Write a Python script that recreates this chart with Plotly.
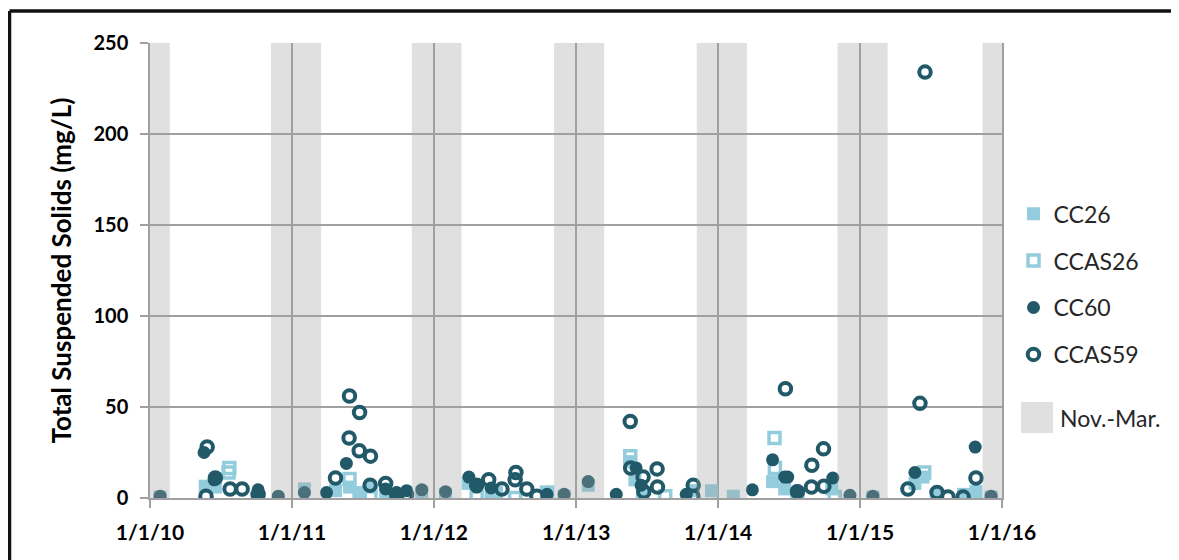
import plotly.graph_objects as go

# ---------------- data ----------------
cc26_dates = ["2010-01-27", "2010-05-23", "2010-06-18", "2011-02-02", "2011-04-23", "2011-05-29",
              "2011-06-24", "2011-07-22", "2011-08-30", "2011-09-27", "2011-12-01", "2012-01-31",
              "2012-03-29", "2012-05-27", "2012-06-10", "2012-10-18", "2012-12-01", "2013-02-01",
              "2013-05-19", "2013-06-01", "2013-06-20", "2013-10-29", "2013-12-15", "2014-02-09",
              "2014-05-21", "2014-06-21", "2014-07-22", "2014-10-20", "2015-02-03", "2015-05-22",
              "2015-06-12", "2015-07-16", "2015-09-24", "2015-10-26", "2015-12-04"]
cc26_vals = [0.5, 6.5, 6, 5, 4, 6,
             3, 6, 2, 1, 3, 2,
             8, 1, 3, 3, 1, 7,
             20, 10, 1.5, 4, 4, 1,
             9, 5, 1, 5, 0.5, 8,
             11.5, 1.5, 2, 3.5, 0.5]

ccas26_dates = ["2010-07-24", "2010-07-22", "2011-05-29", "2011-06-24", "2011-07-22", "2012-04-20",
                "2012-07-28", "2012-10-18", "2013-05-20", "2013-08-18", "2014-05-26", "2014-05-27",
                "2014-07-24", "2014-10-28", "2015-06-15"]
ccas26_vals = [16.5, 14, 10.5, 2, 2, 0.5,
               0, 3, 23, 1, 33, 16.5,
               0, 0.5, 14]

cc60_dates = ["2010-01-27", "2010-05-20", "2010-06-15", "2010-10-06", "2010-10-07", "2010-11-27",
              "2011-02-02", "2011-03-31", "2011-05-21", "2011-08-30", "2011-09-27", "2011-10-23",
              "2011-12-01", "2012-01-31", "2012-03-31", "2012-04-20", "2012-05-27", "2012-10-18",
              "2012-12-01", "2013-02-01", "2013-04-14", "2013-06-04", "2013-06-17", "2013-10-11",
              "2014-03-30", "2014-05-21", "2014-06-21", "2014-06-29", "2014-07-22", "2014-10-23",
              "2014-12-06", "2015-02-03", "2015-05-22", "2015-10-24", "2015-12-04"]
cc60_vals = [1, 25, 10, 4.5, 0.5, 1,
             3, 3, 19, 5, 3, 4,
             4.5, 3.5, 11.5, 6, 5.5, 2,
             2, 9, 2, 16.5, 7, 2,
             4.5, 21, 11.5, 11.5, 4, 11,
             1.5, 1, 14, 28, 1]

ccas59_dates = ["2010-05-25", "2010-05-28", "2010-06-18", "2010-07-26", "2010-08-26", "2010-10-06",
                "2011-04-23", "2011-05-29", "2011-05-28", "2011-06-24", "2011-06-23", "2011-07-22",
                "2011-07-21", "2011-08-30", "2011-09-27", "2011-10-23", "2012-04-20", "2012-05-21",
                "2012-06-24", "2012-07-30", "2012-07-28", "2012-08-27", "2012-09-22", "2013-05-20",
                "2013-05-21", "2013-06-22", "2013-06-24", "2013-07-28", "2013-07-29", "2013-10-29",
                "2013-10-28", "2014-06-23", "2014-07-24", "2014-08-29", "2014-08-30", "2014-09-29",
                "2014-09-30", "2015-05-04", "2015-06-04", "2015-06-17", "2015-07-18", "2015-08-15",
                "2015-09-23", "2015-10-26"]
ccas59_vals = [1, 28, 11, 5, 5, 2,
               11, 56, 33, 47, 26, 23,
               7, 8, 2, 2, 7, 10,
               5, 14, 10, 5, 1, 42,
               16.5, 11.5, 3.5, 16, 6, 7,
               1, 60, 3.5, 6, 18, 27,
               6.5, 5, 52, 234, 3, 0.5,
               0.5, 11]

band_start = ["2010-01-01", "2010-11-08", "2011-11-05", "2012-11-05", "2013-11-07", "2014-11-04", "2015-11-12"]
band_end = ["2010-02-21", "2011-03-17", "2012-03-12", "2013-03-14", "2014-03-16", "2015-03-13", "2016-01-01"]
band_top = [250, 250, 250, 251, 250, 250, 250]

year_ticks = ["2010-01-01", "2011-01-01", "2012-01-01", "2013-01-01", "2014-01-01", "2015-01-01", "2016-01-01"]
year_labels = ["1/1/10", "1/1/11", "1/1/12", "1/1/13", "1/1/14", "1/1/15", "1/1/16"]
y_ticks = [0, 50, 100, 150, 200, 250]

# ---------------- style ----------------
LIGHT = "#93CDDD"
DARK = "#215968"
GRID = "#a0a0a0"
FONT = "Lato"

fig = go.Figure()
fig.add_trace(go.Scatter(x=cc26_dates, y=cc26_vals, mode="markers", name="CC26",
                         legendgroup="a",
                         marker=dict(symbol="square", size=13, color=LIGHT, line=dict(width=0))))
fig.add_trace(go.Scatter(x=ccas26_dates, y=ccas26_vals, mode="markers", name="CCAS26",
                         legendgroup="b",
                         marker=dict(symbol="square-open", size=11, color=LIGHT, line=dict(width=3.5, color=LIGHT))))
fig.add_trace(go.Scatter(x=cc60_dates, y=cc60_vals, mode="markers", name="CC60",
                         legendgroup="c",
                         marker=dict(symbol="circle", size=13, color=DARK, line=dict(width=0))))
fig.add_trace(go.Scatter(x=ccas59_dates, y=ccas59_vals, mode="markers", name="CCAS59",
                         legendgroup="d",
                         marker=dict(symbol="circle-open", size=11.5, color=DARK, line=dict(width=4, color=DARK))))

shapes = []
for s, e, t in zip(band_start, band_end, band_top):
    shapes.append(dict(type="rect", xref="x", yref="y", x0=s, x1=e, y0=0, y1=t,
                       fillcolor="rgba(160,160,160,0.33)", line=dict(width=0), layer="above"))

# legend patch for the Nov.-Mar. bands
shapes.append(dict(type="rect", xref="paper", yref="paper", x0=1.0223, x1=1.0599, y0=0.1429, y1=0.211,
                   fillcolor="#e0e0e0", line=dict(width=0)))
# outer frame (four sides)
FX0, FX1, FY0, FY1 = -0.1649, 1.2031, -0.25, 1.0703
for (a, b, c, d) in [(FX0, FY0, FX0, FY1), (FX0, FY1, FX1, FY1), (FX1, FY1, FX1, FY0)]:
    shapes.append(dict(type="line", xref="paper", yref="paper", x0=a, y0=b, x1=c, y1=d,
                       line=dict(width=3.5, color="#111111")))

fig.update_layout(
    width=1179, height=560,
    margin=dict(l=142, r=185, t=35, b=70),
    paper_bgcolor="white", plot_bgcolor="white",
    font=dict(family=FONT, color="#000000"),
    shapes=shapes,
    showlegend=True,
    legend=dict(x=1.0135, y=0.672, xanchor="left", yanchor="top",
                font=dict(family=FONT, size=23, color="#262626"),
                tracegroupgap=14, itemwidth=30, bgcolor="rgba(0,0,0,0)"),
    annotations=[dict(text="Nov.-Mar.", xref="paper", yref="paper", x=1.0655, y=0.1758,
                      xanchor="left", yanchor="middle", showarrow=False,
                      font=dict(family=FONT, size=23, color="#262626"))],
)

fig.update_xaxes(type="date", range=["2010-01-01", "2016-01-01"],
                 tickvals=year_ticks, ticktext=year_labels,
                 showgrid=True, gridcolor=GRID, gridwidth=1.5,
                 showline=True, linecolor=GRID, linewidth=1.5,
                 ticks="outside", ticklen=8, tickcolor=GRID, tickwidth=1.5,
                 tickfont=dict(family=FONT, size=21, color="#000000", weight="bold"),
                 ticklabelstandoff=7,
                 zeroline=False)
fig.update_yaxes(range=[0, 250], tickvals=y_ticks,
                 showgrid=True, gridcolor=GRID, gridwidth=1.5,
                 showline=True, linecolor=GRID, linewidth=1.5, mirror=True,
                 ticks="outside", ticklen=8, tickcolor=GRID, tickwidth=1.5,
                 tickfont=dict(family=FONT, size=20, color="#000000", weight="bold"),
                 ticklabelstandoff=8,
                 title=dict(text="Total Suspended Solids (mg/L)", standoff=14,
                            font=dict(family=FONT, size=26, color="#000000", weight="bold")),
                 zeroline=False)

fig.write_html("out.html")
